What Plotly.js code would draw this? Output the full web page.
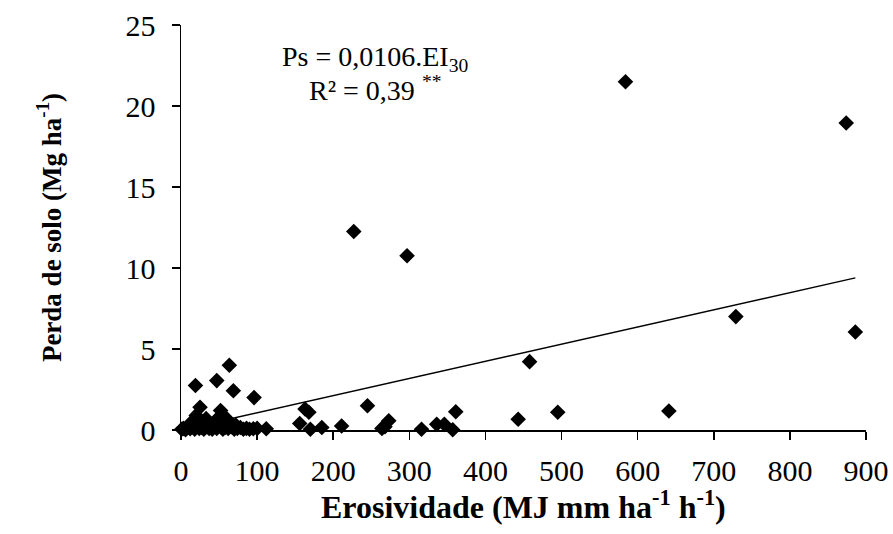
<!DOCTYPE html>
<html>
<head>
<meta charset="utf-8">
<script src="https://cdn.plot.ly/plotly-3.0.1.min.js"></script>
<style>html,body{margin:0;padding:0;background:#fff;}#chart{width:893px;height:534px;}</style>
</head>
<body>
<div id="chart"></div>
<script>
// Erosivity (MJ mm ha-1 h-1)
const erosividade = [
  1, 3, 6, 9, 12, 15, 18, 21, 24, 27, 30, 34, 37, 41, 44, 47, 51, 55, 58, 62, 66, 70, 74, 78, 82, 86, 90, 95, 100,
  14, 20, 25, 33, 38, 45, 50, 55, 60, 65, 72,
  19, 25, 47, 52, 63.5, 68.8, 96, 112,
  156, 163, 168, 170, 185, 211, 227, 245, 264, 268, 273, 297, 316, 336, 346, 357, 361,
  443, 458, 495, 584, 641, 729, 874, 886
];
// Soil loss (Mg ha-1)
const perdaSolo = [
  0.05, 0.1, 0.02, 0.2, 0.08, 0.25, 0.05, 0.3, 0.1, 0.15, 0.05, 0.2, 0.1, 0.05, 0.25, 0.1, 0.3, 0.05, 0.15, 0.1, 0.2, 0.05, 0.1, 0.15, 0.05, 0.1, 0.05, 0.08, 0.1,
  0.5, 0.9, 0.6, 0.7, 0.4, 0.5, 0.8, 0.6, 0.7, 0.4, 0.3,
  2.75, 1.4, 3.05, 1.2, 4.0, 2.42, 2.0, 0.08,
  0.4, 1.3, 1.1, 0.05, 0.15, 0.25, 12.25, 1.5, 0.1, 0.2, 0.57, 10.76, 0.05, 0.35, 0.35, 0.02, 1.13,
  0.66, 4.22, 1.1, 21.5, 1.17, 7.0, 18.95, 6.05
];
const slope = 0.0106;
const xTicks = [0, 100, 200, 300, 400, 500, 600, 700, 800, 900];
const yTicks = [0, 5, 10, 15, 20, 25];
const xTitle = '<b>Erosividade (MJ mm ha<sup>-1</sup> h<sup>-1</sup>)</b>';
const yTitle = '<b>Perda de solo (Mg ha<sup>-1</sup>)</b>';
const eqLine1 = 'Ps = 0,0106.EI<sub>30</sub>';
const eqLine2 = 'R² = 0,39 <sup>**</sup>';

const xMin = Math.min(...erosividade), xMax = Math.max(...erosividade);
const trendX = [xMin, xMax];
const trendY = trendX.map(v => slope * v);

const serif = 'Times New Roman';

const data = [
  {x: trendX, y: trendY, mode: 'lines', type: 'scatter', line: {color: '#000', width: 1.5}, hoverinfo: 'skip', cliponaxis: false},
  {x: erosividade, y: perdaSolo, mode: 'markers', type: 'scatter', cliponaxis: false,
   marker: {symbol: 'diamond', size: 12, color: '#000', line: {width: 0}}}
];

const layout = {
  width: 893, height: 534,
  margin: {l: 181, r: 27, t: 25, b: 104},
  paper_bgcolor: '#fff', plot_bgcolor: '#fff',
  showlegend: false,
  font: {family: serif, color: '#000', size: 30},
  xaxis: {
    range: [0, 900], tickvals: xTicks, ticktext: xTicks.map(String),
    showgrid: false, zeroline: false, showline: true, linecolor: '#000', linewidth: 1.5,
    ticks: 'outside', ticklen: 8, tickwidth: 1.5, tickcolor: '#000', ticklabelstandoff: 5,
    tickfont: {family: serif, size: 30, color: '#000'}
  },
  yaxis: {
    range: [0, 25], tickvals: yTicks, ticktext: yTicks.map(String),
    showgrid: false, zeroline: false, showline: true, linecolor: '#000', linewidth: 1.5,
    ticks: 'outside', ticklen: 8, tickwidth: 1.5, tickcolor: '#000', ticklabelstandoff: 10,
    tickfont: {family: serif, size: 30, color: '#000'},
    title: {text: yTitle, font: {family: serif, size: 27, color: '#000'}, standoff: 56}
  },
  annotations: [
    {xref: 'paper', yref: 'paper', x: 0.5, y: -0.186, xanchor: 'center', yanchor: 'middle', text: xTitle, showarrow: false, font: {family: serif, size: 32, color: '#000'}},
    {xref: 'x', yref: 'y', x: 255, y: 22.95, text: eqLine1, showarrow: false, font: {family: serif, size: 28, color: '#000'}},
    {xref: 'x', yref: 'y', x: 255, y: 21.1, text: eqLine2, showarrow: false, font: {family: serif, size: 28, color: '#000'}}
  ]
};

Plotly.newPlot('chart', data, layout, {displayModeBar: false, staticPlot: true});
</script>
</body>
</html>
